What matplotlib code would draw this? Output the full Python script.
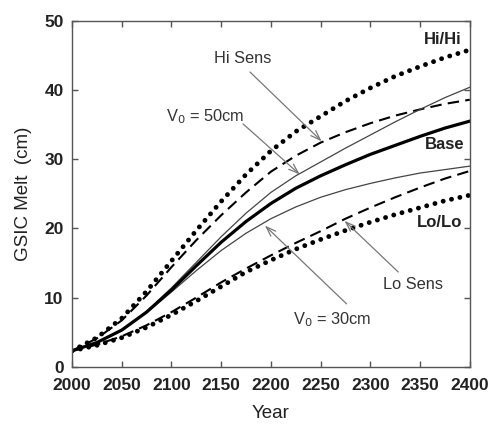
import matplotlib
matplotlib.use("Agg")
import matplotlib.pyplot as plt

plt.rcParams["font.family"] = ["Liberation Sans", "DejaVu Sans"]

# data (every 25 years)
years = [2000, 2025, 2050, 2075, 2100, 2125, 2150, 2175, 2200,
         2225, 2250, 2275, 2300, 2325, 2350, 2375, 2400]
hi_hi = [2.3, 4.2, 7.0, 10.9, 15.3, 19.7, 23.9, 27.8, 31.2,
         34.0, 36.2, 38.4, 40.3, 42.0, 43.4, 44.7, 45.8]
hi_sens = [2.3, 4.1, 6.7, 10.3, 14.4, 18.3, 21.9, 25.2, 28.2,
           30.5, 32.4, 33.9, 35.2, 36.3, 37.2, 38.0, 38.6]
v0_50 = [2.3, 3.5, 5.3, 8.0, 11.4, 15.1, 18.8, 22.2, 25.2,
         27.6, 29.6, 31.6, 33.5, 35.4, 37.2, 38.9, 40.4]
base = [2.3, 3.5, 5.3, 7.9, 11.1, 14.6, 18.0, 21.0, 23.6,
        25.8, 27.6, 29.2, 30.7, 32.0, 33.3, 34.5, 35.5]
v0_30 = [2.3, 3.5, 5.2, 7.8, 10.8, 13.9, 16.8, 19.3, 21.4,
         23.1, 24.5, 25.6, 26.5, 27.3, 28.0, 28.5, 29.0]
lo_sens = [2.3, 3.2, 4.4, 6.0, 7.9, 10.0, 12.2, 14.2, 16.1,
           17.9, 19.6, 21.4, 23.0, 24.5, 25.9, 27.2, 28.3]
lo_lo = [2.3, 3.1, 4.2, 5.7, 7.5, 9.5, 11.6, 13.7, 15.4,
         17.0, 18.4, 19.7, 20.9, 22.0, 23.0, 24.0, 24.8]

fig = plt.figure(figsize=(4.93, 4.25), dpi=100)
ax = fig.add_axes([0.146, 0.137, 0.807, 0.814])

dots = dict(color="black", lw=3.5, linestyle=(0, (0.01, 1.75)),
            dash_capstyle="round")
dashes = dict(color="black", lw=1.5, linestyle=(0, (5.5, 3.0)))
thin = dict(color="#444444", lw=0.9)

ax.plot(years, hi_hi, **dots)
ax.plot(years, lo_lo, **dots)
ax.plot(years, hi_sens, **dashes)
ax.plot(years, lo_sens, **dashes)
ax.plot(years, v0_50, **thin)
ax.plot(years, v0_30, **thin)
ax.plot(years, base, color="black", lw=2.3)

# labels at right edge
bold = dict(fontsize=12, fontweight="bold", color="#222222",
            ha="right", va="center")
ax.text(2392, 47.3, "Hi/Hi", **bold)
ax.text(2395, 32.1, "Base", **bold)
ax.text(2392, 20.8, "Lo/Lo", **bold)

# arrows with text
arr = dict(arrowstyle="->,head_length=0.7,head_width=0.25",
           color="#777777", lw=0.9, shrinkA=0, shrinkB=0)
note = dict(fontsize=11.8, color="#333333", ha="center", va="center")

ax.text(2172, 44.6, "Hi Sens", **note)
ax.annotate("", xy=(2251, 32.6), xytext=(2179, 42.6), arrowprops=arr)

ax.text(2134, 36.1, "V$_0$ = 50cm", **note)
ax.annotate("", xy=(2229, 27.8), xytext=(2172, 35.1), arrowprops=arr)

ax.text(2343, 11.85, "Lo Sens", **note)
ax.annotate("", xy=(2274, 21.1), xytext=(2328, 13.7), arrowprops=arr)

ax.text(2262, 6.8, "V$_0$ = 30cm", **note)
ax.annotate("", xy=(2194, 20.4), xytext=(2276, 9.1), arrowprops=arr)

ax.set_xlim(2000, 2400)
ax.set_ylim(0, 50)
ax.set_xticks(range(2000, 2401, 50))
ax.set_yticks(range(0, 51, 10))
ax.tick_params(direction="in", top=True, right=True, length=4,
               width=1, color="#555555", labelsize=12.5,
               labelcolor="#222222")
ax.tick_params(axis="x", pad=8)
ax.tick_params(axis="y", pad=6)
for lab in ax.get_xticklabels() + ax.get_yticklabels():
    lab.set_fontweight("bold")
for sp in ax.spines.values():
    sp.set_color("#555555")
    sp.set_linewidth(1.0)

ax.set_xlabel("Year", fontsize=13.5, color="#222222", labelpad=9)
ax.set_ylabel("GSIC Melt  (cm)", fontsize=13.5, color="#222222", labelpad=9)

fig.savefig("out.png", dpi=100)
